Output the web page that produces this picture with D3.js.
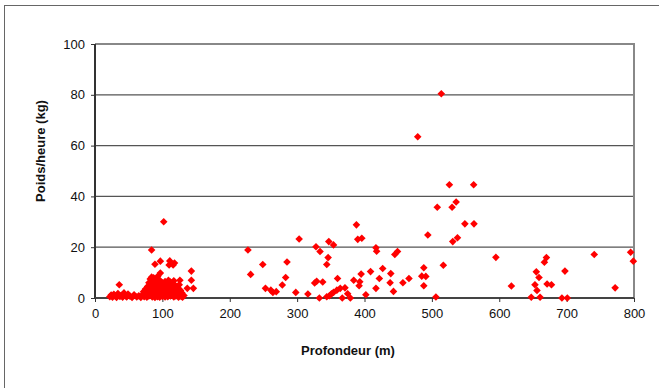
<!DOCTYPE html>
<html><head><meta charset="utf-8">
<script src="https://cdn.jsdelivr.net/npm/d3@7"></script>
<style>body{margin:0;background:#fff}svg{display:block}</style>
</head><body>
<svg id="c" width="659" height="388"></svg>
<script>
const xTicks=[0,100,200,300,400,500,600,700,800];
const yTicks=[0,20,40,60,80,100];
const xTitle="Profondeur (m)";
const yTitle="Poids/heure (kg)";
// profondeur (m)
const depth=[22,24,26,28,30,32,34,36,37,39,41,43,45,47,49,52,55,58,62,65,68,
70,72,73,75,76,77,78,79,80,80,81,82,83,83,84,84,85,85,86,86,87,87,88,88,89,89,90,90,91,91,92,92,93,93,94,94,95,95,96,96,97,97,97,98,98,99,100,100,101,102,102,103,104,104,105,106,106,107,108,108,109,110,110,111,111,112,112,113,114,114,115,116,116,117,117,118,118,119,120,120,121,122,123,124,125,126,126,127,128,129,130,132,137,143,143,146,
227,231,249,253,261,264,269,278,283,285,298,303,316,326,329,328,334,333,338,344,346,347,354,344,348,351,354,359,360,364,367,371,375,379,384,388,390,396,392,393,395,402,409,417,417,418,422,427,439,438,443,445,449,457,466,479,485,491,488,488,494,506,508,514,517,526,530,531,538,536,549,562,562.5,595,618,647.5,655,653,656,659,660.6,667,670,671,677.5,693,697.5,701,741,772,795,799];
// poids/heure (kg)
const weight=[0.5,1.2,0.3,1.5,0.8,0.2,1.8,5.2,0.6,1.1,0.3,2.0,0.9,0.4,1.6,0.7,0.2,1.3,0.4,0.9,0.2,
1.2,2.5,0.5,3.5,1.8,0.3,4.5,2.2,6.0,0.8,3.0,7.5,1.5,5.0,18.9,8.2,2.6,0.4,6.5,4.0,1.2,8.0,3.3,5.8,13.3,0.2,2.0,7.2,4.6,1.0,6.0,3.0,0.5,8.5,2.5,5.2,1.5,3.8,7.0,0.3,14.5,9.8,2.2,4.5,1.0,6.2,3.0,0.6,5.0,30,1.8,3.8,0.4,6.5,2.6,4.2,1.0,5.6,3.0,0.5,7.0,13.0,2.0,14.6,4.8,6.3,0.8,3.2,5.5,1.5,2.6,13.0,4.2,0.4,6.8,13.8,2.0,5.0,3.5,0.8,1.8,4.5,2.5,0.3,5.2,7.0,1.5,3.0,0.6,2.0,0.3,1.0,3.8,10.6,7.0,3.8,
18.9,9.3,13.2,3.8,3.1,2.2,2.5,5.1,8.1,14.2,2.2,23.2,1.6,5.9,6.6,20.2,18.3,0,6.3,13.2,15.9,22.2,20.9,0.5,0.9,1.7,2.2,3.1,7.7,3.8,0,4.0,1.7,0,7.0,28.8,23.1,23.5,4.8,6.4,9.4,1.3,10.4,3.8,19.8,18.4,7.7,11.6,9.6,6.0,2.6,17.1,18.3,6.0,7.7,63.5,8.6,8.5,11.9,4.8,24.8,0.4,35.7,80.4,12.9,44.6,35.7,22.2,23.7,37.8,29.2,44.6,29.2,16.0,4.7,0.3,10.3,5.2,3.0,8.1,0.3,14.1,15.9,5.5,5.2,0,10.6,0,17.1,4.0,18.0,14.5];

const svg=d3.select("#c");
const font="Liberation Sans, Arial, sans-serif";
svg.append("rect").attr("x",4.5).attr("y",5.5).attr("width",700).attr("height",400)
  .attr("fill","none").attr("stroke","#666").attr("stroke-width",1);

const L=95,R=634,T=44,B=298;
const x=d3.scaleLinear().domain([0,800]).range([L,R]);
const y=d3.scaleLinear().domain([0,100]).range([B,T]);

// gridlines
svg.append("g").selectAll("line").data(yTicks.filter(d=>d>0&&d<100)).join("line")
  .attr("x1",L).attr("x2",R).attr("y1",d=>y(d)).attr("y2",d=>y(d))
  .attr("stroke","#555").attr("stroke-width",1.2);
// plot border top/right
svg.append("line").attr("x1",L).attr("x2",R+1).attr("y1",T).attr("y2",T).attr("stroke","#888").attr("stroke-width",2);
svg.append("line").attr("x1",R).attr("x2",R).attr("y1",T).attr("y2",B).attr("stroke","#888").attr("stroke-width",2);

// axes
const yAxis=d3.axisLeft(y).tickValues(yTicks).tickSize(4).tickPadding(6);
const gy=svg.append("g").attr("transform",`translate(${L},0)`).call(yAxis);
gy.select(".domain").attr("stroke","#333").attr("stroke-width",2).attr("d",`M0,${T}V${B}`);
gy.selectAll(".tick line").attr("stroke","#333");
gy.selectAll("text").attr("font-family",font).attr("font-size",13).attr("fill","#111");

const xAxis=d3.axisBottom(x).tickValues(xTicks).tickSize(4).tickPadding(7);
const gx=svg.append("g").attr("transform",`translate(0,${B})`).call(xAxis);
gx.select(".domain").attr("stroke","#444").attr("stroke-width",2).attr("d",`M${L},0H${R}`);
gx.selectAll(".tick line").attr("stroke","#333");
gx.selectAll("text").attr("font-family",font).attr("font-size",13).attr("fill","#111");

// points
const pts=depth.map((d,i)=>[d,weight[i]]);
svg.append("g").selectAll("path").data(pts).join("path")
  .attr("transform",d=>`translate(${x(d[0])},${y(d[1])})`)
  .attr("d","M0,-3.8L3.8,0L0,3.8L-3.8,0Z").attr("fill","#ff0000");

// titles
svg.append("text").attr("x",348).attr("y",355).attr("text-anchor","middle")
  .attr("font-family",font).attr("font-size",13).attr("font-weight","bold").attr("fill","#111").text(xTitle);
svg.append("text").attr("transform",`translate(45,151) rotate(-90)`).attr("text-anchor","middle")
  .attr("font-family",font).attr("font-size",13).attr("font-weight","bold").attr("fill","#111").text(yTitle);
</script>
</body></html>
